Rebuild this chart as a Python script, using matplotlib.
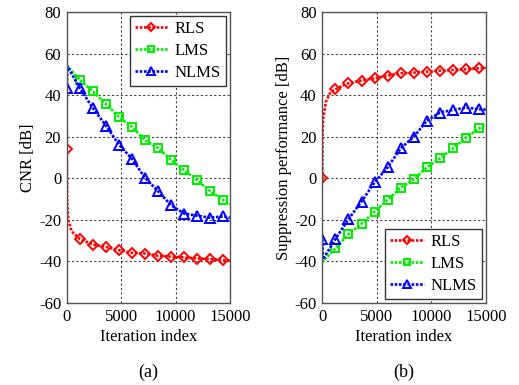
import matplotlib
matplotlib.use("Agg")
from matplotlib import pyplot as plt

plt.rcParams['font.family'] = ['Liberation Serif', 'DejaVu Serif']
plt.rcParams['font.size'] = 12
plt.rcParams['axes.unicode_minus'] = False

# marker positions (iteration index)
mk_iter = [0, 1200, 2400, 3600, 4800, 6000, 7200, 8400, 9600, 10800, 12000, 13200, 14400]

# ---- panel (a): CNR [dB]
rls_a_mk = [14, -29.2, -31.9, -33.0, -34.6, -35.9, -36.2, -37.3, -37.7, -38.1, -38.6, -38.9, -39.4]
rls_a_head_x = [0, 0, 50, 150, 450]
rls_a_head_y = [43, 14, -12, -20, -25.5]
rls_a_end = -39.6

lms_a_mk = [47.4, 41.8, 35.7, 29.5, 24.7, 18.3, 14.6, 8.7, 3.8, -1.0, -6.3, -10.5]
lms_a_head_x = [0, 50]
lms_a_head_y = [43, 54]
lms_a_end = -12.5

nlms_a_mk = [43.4, 43.4, 33.8, 25.3, 16.2, 9.3, 0.2, -6.3, -13.0, -17.0, -18.0, -19.0, -18.3]
nlms_a_head_x = [0, 50]
nlms_a_head_y = [43, 54]
nlms_a_end = -19.0

# ---- panel (b): suppression performance [dB]
rls_b_mk = [0, 42.8, 45.7, 47.0, 48.1, 49.4, 50.5, 50.8, 51.3, 51.8, 52.1, 52.4, 52.9]
rls_b_head_x = [0, 0, 20, 90, 340, 770]
rls_b_head_y = [-2, 0, 20, 29, 37, 41.5]
rls_b_end = 53.2

lms_b_mk = [-33.7, -26.9, -21.9, -16.0, -10.4, -4.5, -0.5, 5.3, 9.6, 14.4, 19.6, 24.0]
lms_b_head_x = [0, 60]
lms_b_head_y = [-31, -40]
lms_b_end = 26.0

nlms_b_mk = [-29.3, -29.3, -19.7, -11.2, -2.0, 5.3, 14.4, 20.0, 27.7, 31.6, 32.9, 34.0, 33.2]
nlms_b_head_x = [0, 60]
nlms_b_head_y = [-29.3, -39]
nlms_b_end = 33.0

labels = ['RLS', 'LMS', 'NLMS']
colors = ['#ff0000', '#00ee00', '#0000ff']
markers = ['D', 's', '^']
msizes = [5.0, 6.0, 7.0]

DOTS = (0, (1.0, 0.6))


def draw_series(ax, head_x, head_y, mk_x, mk_y, end_y, color, marker, ms):
    # dotted curve through the transient, the marker points and the end point
    line_x = head_x + [x for x in mk_x if x > head_x[-1]] + [15000]
    line_y = head_y + [y for x, y in zip(mk_x, mk_y) if x > head_x[-1]] + [end_y]
    ln, = ax.plot(line_x, line_y, linestyle=DOTS, color=color, lw=1.9)
    pts, = ax.plot(mk_x, mk_y, linestyle='none', marker=marker, ms=ms,
                   mfc='none', mec=color, mew=1.4)
    return ln, pts


fig = plt.figure(figsize=(5.19, 3.85), dpi=100)
ax_a = fig.add_axes([0.1285, 0.213, 0.3145, 0.756])
ax_b = fig.add_axes([0.621, 0.213, 0.315, 0.756])

series_a = [
    (rls_a_head_x, rls_a_head_y, mk_iter, rls_a_mk, rls_a_end),
    (lms_a_head_x, lms_a_head_y, mk_iter[1:], lms_a_mk, lms_a_end),
    (nlms_a_head_x, nlms_a_head_y, mk_iter, nlms_a_mk, nlms_a_end),
]
series_b = [
    (rls_b_head_x, rls_b_head_y, mk_iter, rls_b_mk, rls_b_end),
    (lms_b_head_x, lms_b_head_y, mk_iter[1:], lms_b_mk, lms_b_end),
    (nlms_b_head_x, nlms_b_head_y, mk_iter, nlms_b_mk, nlms_b_end),
]

for ax, series, ylabel, tag, loc in [
        (ax_a, series_a, 'CNR [dB]', '(a)', 'upper right'),
        (ax_b, series_b, 'Suppression performance [dB]', '(b)', 'lower right')]:
    handles = []
    for (hx, hy, mx, my, ey), c, m, ms in zip(series, colors, markers, msizes):
        handles.append(draw_series(ax, hx, hy, mx, my, ey, c, m, ms))
    ax.set_xlim(0, 15000)
    ax.set_ylim(-60, 80)
    ax.set_xticks([0, 5000, 10000, 15000])
    ax.set_yticks(range(-60, 81, 20))
    ax.tick_params(length=0, labelsize=12, pad=4)
    ax.grid(True, color='#444444', linestyle=(0, (2, 2)), linewidth=0.8)
    for sp in ax.spines.values():
        sp.set_color('#555555')
        sp.set_linewidth(1.0)
    ax.set_xlabel('Iteration index', fontsize=12, labelpad=3)
    ax.set_ylabel(ylabel, fontsize=12, labelpad=2)
    leg = ax.legend(handles, labels, loc=loc, fontsize=12, fancybox=False,
                    framealpha=1, edgecolor='#333333', handlelength=2.0,
                    borderpad=0.3, labelspacing=0.35, handletextpad=0.4,
                    borderaxespad=0.25, markerscale=0.75)
    leg.get_frame().set_linewidth(1.0)
    ax.text(0.5, -0.237, tag, transform=ax.transAxes, ha='center', va='center',
            fontsize=13)

fig.savefig('out.png', dpi=100)
